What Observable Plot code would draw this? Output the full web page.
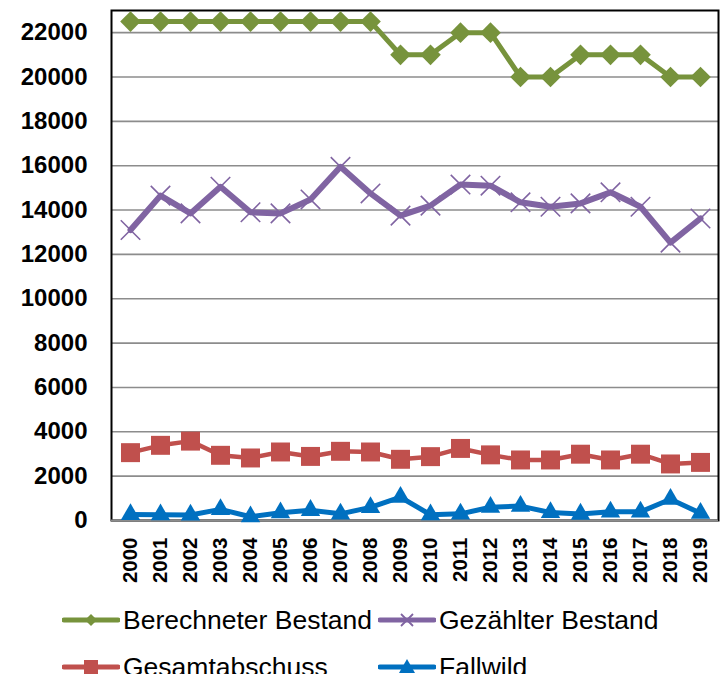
<!DOCTYPE html>
<html>
<head>
<meta charset="utf-8">
<script src="https://cdn.jsdelivr.net/npm/d3@7"></script>
<script src="https://cdn.jsdelivr.net/npm/@observablehq/plot@0.6"></script>
<style>
  body { margin: 0; background: #fff; font-family: "Liberation Sans", Arial, sans-serif; }
  #wrap { position: relative; width: 725px; height: 674px; overflow: hidden; }
  .leg { position: absolute; display: flex; align-items: center; font-size: 26.5px; color: #000; white-space: nowrap; }
  .leg svg { margin-right: 3px; }
</style>
</head>
<body>
<div id="wrap"></div>
<script>
const years = [2000,2001,2002,2003,2004,2005,2006,2007,2008,2009,2010,2011,2012,2013,2014,2015,2016,2017,2018,2019];
const berechneter = [22500,22500,22500,22500,22500,22500,22500,22500,22500,21000,21000,22000,22000,20000,20000,21000,21000,21000,20000,20000];
const gezaehlter = [13100,14650,13850,15050,13900,13850,14480,15950,14750,13750,14200,15150,15100,14350,14150,14300,14800,14150,12530,13620];
const gesamtabschuss = [3060,3390,3580,2940,2820,3090,2890,3120,3090,2760,2880,3250,2960,2730,2730,2990,2730,2990,2550,2620];
const fallwild = [270,260,250,500,170,350,460,300,590,1050,260,300,600,650,360,290,390,390,960,330];
const yTicks = [0,2000,4000,6000,8000,10000,12000,14000,16000,18000,20000,22000];
const seriesNames = ["Berechneter Bestand","Gezählter Bestand","Gesamtabschuss","Fallwild"];
const seriesColors = ["#77933C","#8064A2","#C0504D","#0070C0"];

const series = [berechneter, gezaehlter, gesamtabschuss, fallwild];
const rows = series.map(vals => years.map((y, i) => ({year: y, value: vals[i]})));

const marks = [
  Plot.gridY(yTicks, {stroke: "#8c8c8c", strokeOpacity: 1, strokeWidth: 1.6}),
  Plot.frame({stroke: "#000", strokeWidth: 2}),
  Plot.ruleY([0], {stroke: "#8c8c8c", strokeWidth: 2}),
  Plot.axisY({ticks: yTicks, label: null, tickSize: 0, tickPadding: 24, fontSize: 24, fontWeight: "bold", tickFormat: d => String(d)}),
  Plot.axisX({label: null, tickSize: 0, tickRotate: -90, tickPadding: 17, fontSize: 20.5, fontWeight: "bold", tickFormat: d => String(d)})
];
const symbols = ["diamond2", "times", "square", "triangle"];
const radii = [9.3, 8.9, 10.7, 7.2];
const lw = [5, 6, 4.5, 5];
rows.forEach((data, k) => {
  marks.push(Plot.line(data, {x: "year", y: "value", stroke: seriesColors[k], strokeWidth: lw[k], strokeLinejoin: "round"}));
  if (symbols[k] === "times") {
    marks.push(Plot.dot(data, {x: "year", y: "value", symbol: "times", r: radii[k], stroke: seriesColors[k], strokeWidth: 1.6}));
  } else {
    marks.push(Plot.dot(data, {x: "year", y: "value", symbol: symbols[k], r: radii[k], fill: seriesColors[k], stroke: "none"}));
  }
});

const chart = Plot.plot({
  width: 725,
  height: 600,
  marginTop: 10,
  marginBottom: 80,
  marginLeft: 111,
  marginRight: 7,
  style: {fontFamily: "'Liberation Sans', Arial, sans-serif", color: "#000", background: "#fff"},
  x: {type: "point", domain: years, padding: 0.5, axis: null},
  y: {domain: [0, 23000], axis: null},
  marks
});
const wrap = document.getElementById("wrap");
wrap.appendChild(chart);

// legend below the chart
const legPos = [[62, 620], [378, 620], [62, 667], [378, 667]];
const markerSvg = [
  c => `<polygon points="29,4 35,10 29,16 23,10" fill="${c}"/>`,
  c => `<path d="M23,4L35,16M35,4L23,16" stroke="${c}" stroke-width="1.8"/>`,
  c => `<rect x="22" y="3" width="14" height="14" fill="${c}"/>`,
  c => `<polygon points="29,2 37,16 21,16" fill="${c}"/>`
];
seriesNames.forEach((name, k) => {
  const d = document.createElement("div");
  d.className = "leg";
  d.style.left = legPos[k][0] + "px";
  d.style.top = (legPos[k][1] - 10) + "px";
  d.style.height = "20px";
  d.innerHTML = `<svg width="58" height="20"><line x1="2" y1="10" x2="56" y2="10" stroke="${seriesColors[k]}" stroke-width="5" stroke-linecap="round"/>${markerSvg[k](seriesColors[k])}</svg><span style="line-height:20px">${name}</span>`;
  wrap.appendChild(d);
});
</script>
</body>
</html>
